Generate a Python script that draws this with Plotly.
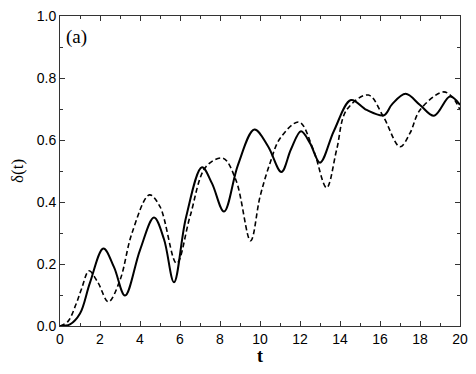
import plotly.graph_objects as go

# Solid curve (t, delta)
t_solid = [0, 0.5, 1.0, 1.5, 2.17, 2.7, 3.25, 4.0, 4.7, 5.2, 5.7, 6.3, 7.1, 7.6, 8.2, 8.9,
           9.72, 10.4, 11.07, 11.55, 12.05, 12.5, 13.0, 13.7, 14.55, 15.33, 16.2, 16.6,
           17.28, 18.0, 18.7, 19.5, 20.0]
d_solid = [0.0, 0.005, 0.04, 0.14, 0.25, 0.19, 0.098, 0.245, 0.35, 0.28, 0.141, 0.35, 0.512,
           0.46, 0.369, 0.52, 0.634, 0.58, 0.497, 0.57, 0.628, 0.59, 0.527, 0.63, 0.729,
           0.697, 0.68, 0.715, 0.749, 0.713, 0.678, 0.74, 0.713]

# Dashed curve (t, delta)
t_dash = [0, 0.4, 0.8, 1.08, 1.45, 1.9, 2.42, 3.0, 3.6, 4.47, 5.0, 5.83, 6.5, 7.3, 8.15,
          8.8, 9.53, 10.0, 10.5, 11.0, 11.95, 12.67, 13.33, 13.83, 14.33, 15.42, 16.17,
          17.0, 17.5, 18.0, 19.15, 19.6, 20.0]
d_dash = [0.0, 0.015, 0.07, 0.12, 0.178, 0.14, 0.078, 0.148, 0.3, 0.423, 0.385, 0.202, 0.353,
          0.514, 0.541, 0.47, 0.275, 0.417, 0.525, 0.605, 0.658, 0.568, 0.446, 0.568,
          0.697, 0.745, 0.675, 0.578, 0.622, 0.697, 0.755, 0.74, 0.697]

x_ticks = [0, 2, 4, 6, 8, 10, 12, 14, 16, 18, 20]
y_ticks = [0.0, 0.2, 0.4, 0.6, 0.8, 1.0]
y_tick_text = ["0.0", "0.2", "0.4", "0.6", "0.8", "1.0"]

fig = go.Figure()
fig.add_trace(go.Scatter(x=t_solid, y=d_solid, mode="lines",
                         line=dict(color="black", width=2, shape="spline", smoothing=1.0)))
fig.add_trace(go.Scatter(x=t_dash, y=d_dash, mode="lines",
                         line=dict(color="black", width=1.6, dash="5px,3px", shape="spline", smoothing=1.0)))

axis_common = dict(showgrid=False, zeroline=False, showline=True, linecolor="#333333",
                   linewidth=1, mirror="ticks", ticks="inside", ticklen=5, tickcolor="#333333",
                   automargin=False, ticklabeloverflow="allow",
                   tickfont=dict(family="Liberation Sans, Arial", size=14, color="black"))

fig.update_xaxes(range=[0, 20], tickvals=x_ticks, ticktext=[str(v) for v in x_ticks],
                 minor=dict(ticks="inside", ticklen=3, dtick=1, tickcolor="#333333"),
                 **axis_common)
fig.update_yaxes(range=[0, 1], tickvals=y_ticks, ticktext=y_tick_text,
                 minor=dict(ticks="inside", ticklen=3, dtick=0.1, tickcolor="#333333"),
                 title=dict(text="δ(t)", font=dict(family="Liberation Serif, Times New Roman", size=17, color="black"),
                            standoff=18),
                 **axis_common)

fig.add_annotation(text="<b>t</b>", x=0.5, y=-0.097, xref="paper", yref="paper",
                   xanchor="center", yanchor="middle", showarrow=False,
                   font=dict(family="Liberation Serif, Times New Roman", size=18, color="black"))
fig.add_annotation(text="(a)", x=0.01, y=0.975, xref="paper", yref="paper",
                   xanchor="left", yanchor="top", showarrow=False,
                   font=dict(family="Liberation Serif, Times New Roman", size=19, color="black"))

# page body has an 8px default margin; size the figure so the plot area lands at x 60-460, y 16-326
fig.update_layout(width=468, height=366, margin=dict(l=52, r=16, t=8, b=48),
                  plot_bgcolor="white", paper_bgcolor="white", showlegend=False)

fig.write_html("out.html")
